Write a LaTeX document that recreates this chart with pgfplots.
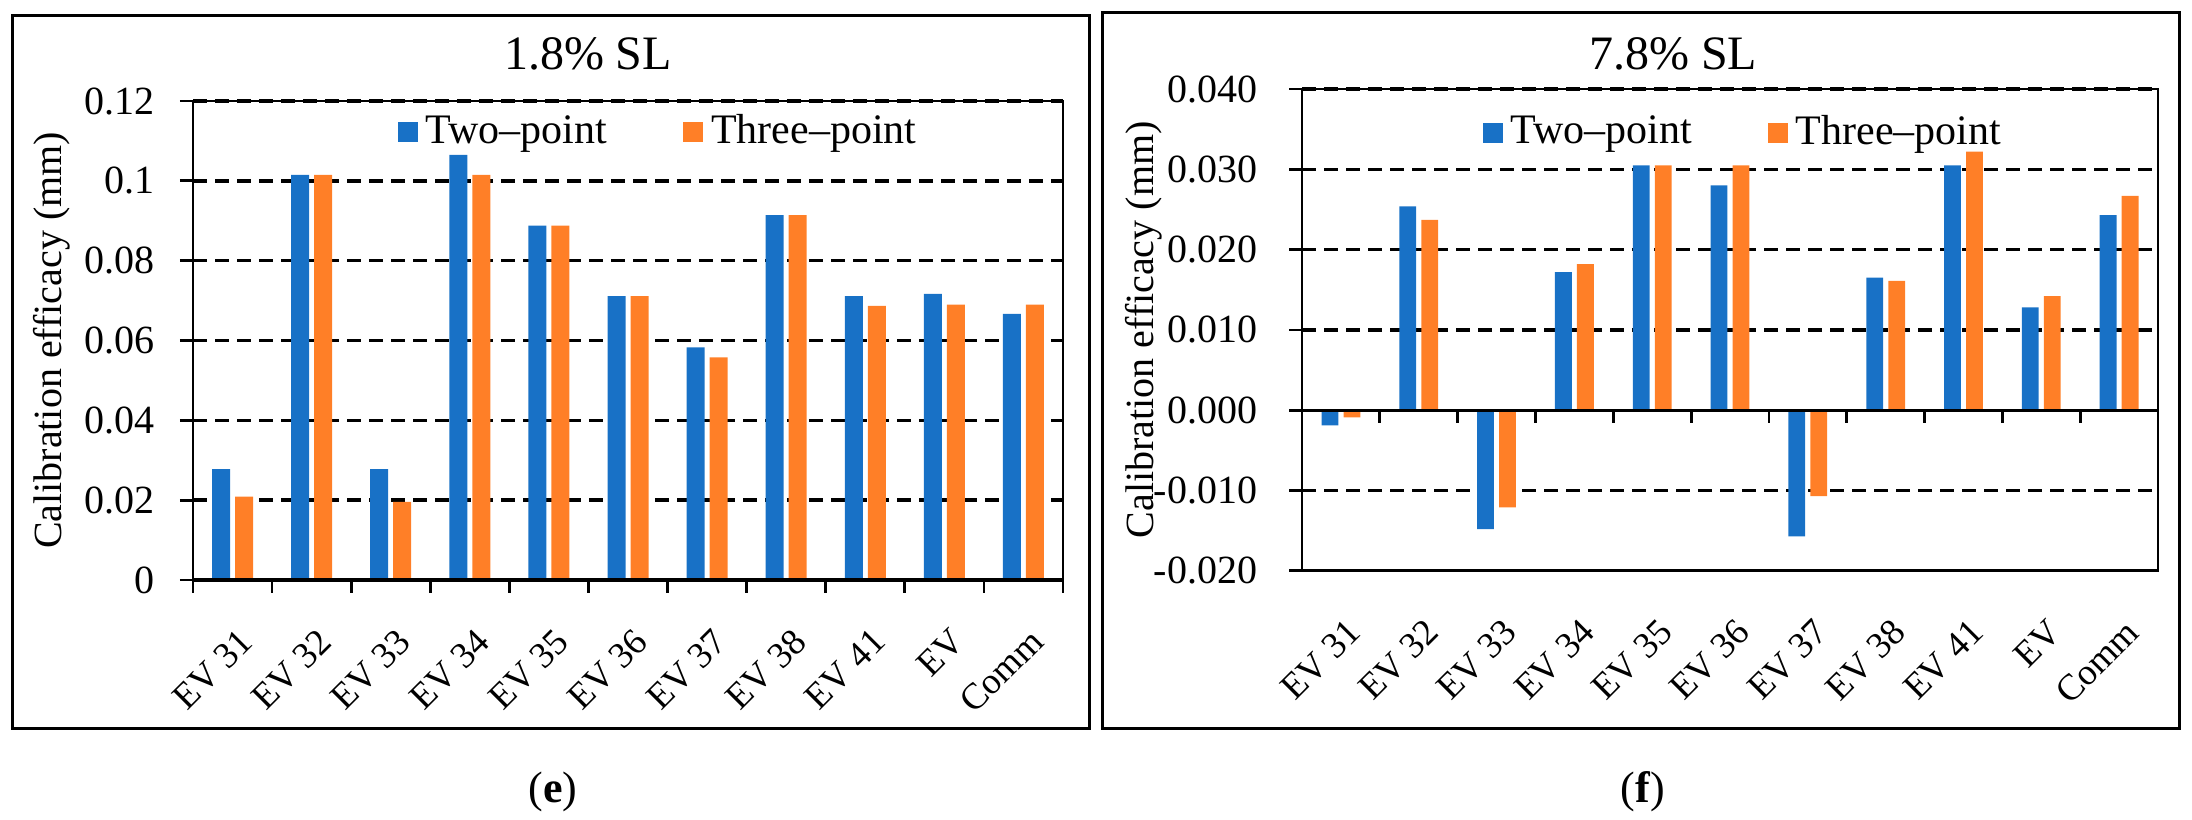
\documentclass[border=0pt]{standalone}
\usepackage{pgfplots}
\usepackage{pgfplotstable}
\pgfplotsset{compat=1.18}
\usepackage{fontspec}
\setmainfont{Liberation Serif}
\definecolor{cblue}{RGB}{24,113,198}
\definecolor{corange}{RGB}{255,127,39}

\pgfplotstableread{
x two three
0 0.0278 0.0209
1 0.1015 0.1015
2 0.0278 0.0196
3 0.1065 0.1015
4 0.0888 0.0888
5 0.0711 0.0711
6 0.0583 0.0558
7 0.0914 0.0914
8 0.0711 0.0687
9 0.0717 0.0690
10 0.0667 0.0690
}\dataE

\pgfplotstableread{
x two three
0 -0.0019 -0.0009
1 0.0254 0.0237
2 -0.0148 -0.0121
3 0.0172 0.0182
4 0.0305 0.0305
5 0.0280 0.0305
6 -0.0157 -0.0107
7 0.0165 0.0161
8 0.0305 0.0322
9 0.0128 0.0142
10 0.0243 0.0267
}\dataF

\pgfplotsset{
  panel/.style={
    scale only axis,
    clip=false,
    font=\fontsize{10bp}{12bp}\selectfont,
    xmin=-0.5, xmax=10.5,
    xtick={0,...,10},
    xticklabels={EV 31,EV 32,EV 33,EV 34,EV 35,EV 36,EV 37,EV 38,EV 41,EV,Comm},
    x tick style={draw=none},
    xticklabel style={inner sep=0pt, xshift=3.5bp, yshift=-10.5bp, rotate=45, anchor=east,
      font=\fontsize{9.2bp}{11bp}\selectfont},
    yticklabel style={inner sep=0pt, anchor=east, font=\fontsize{10bp}{12bp}\selectfont},
    scaled y ticks=false,
    ytick pos=left,
    y tick style={black, line width=0.7bp},
    tick align=outside,
    major tick length=3.25bp,
    ymajorgrids,
    major grid style={black, line width=0.85bp, dash pattern=on 3.4bp off 2.1bp},
    axis line style={black, line width=0.7bp},
    ylabel={Calibration efficacy (mm)},
    ylabel style={font=\fontsize{10.25bp}{12bp}\selectfont},
    legend columns=2,
    legend style={draw=none, fill=none, inner sep=0pt, font=\fontsize{10.5bp}{12bp}\selectfont,
      /tikz/every even column/.append style={column sep=17bp}},
  }
}

\begin{document}
\begin{tikzpicture}
\useasboundingbox (0,0) rectangle (548bp,205bp);

% panel boxes
\draw[line width=0.75bp] (3bp,22.75bp) rectangle (272.25bp,201bp);
\draw[line width=0.75bp] (275.5bp,22.75bp) rectangle (544.75bp,201.75bp);

% left panel
\begin{axis}[panel,
  at={(48.25bp,60bp)}, anchor=south west,
  width=217.5bp, height=119.75bp,
  ymin=0, ymax=0.12,
  ytick={0,0.02,0.04,0.06,0.08,0.1,0.12},
  yticklabels={0,0.02,0.04,0.06,0.08,0.1,0.12},
  yticklabel style={xshift=-6.25bp},
  every axis y label/.style={at={(axis description cs:-0.1506,0.5)}, rotate=90, anchor=base},
  ybar=1.25bp, bar width=4.5bp,
  legend style={at={(axis description cs:0.2345,0.935)}, anchor=west},
]
\addplot[fill=cblue, draw=none,
  legend image code/.code={\fill[cblue] (0bp,-2.5bp) rectangle (5bp,2.5bp);}]
  table[x=x, y=two] {\dataE};
\addlegendentry{Two–point}
\addplot[fill=corange, draw=none,
  legend image code/.code={\fill[corange] (0bp,-2.5bp) rectangle (5bp,2.5bp);}]
  table[x=x, y=three] {\dataE};
\addlegendentry{Three–point}
\draw[line width=0.85bp] (axis cs:-0.5,0) -- (axis cs:10.5,0);
\pgfplotsinvokeforeach{-0.5,0.5,...,10.5}{
  \draw[line width=0.7bp] (axis cs:#1,0) -- ([yshift=-3.25bp]axis cs:#1,0);
}
\end{axis}

% right panel
\begin{axis}[panel,
  at={(325.5bp,62.3bp)}, anchor=south west,
  width=214bp, height=120.45bp,
  ymin=-0.02, ymax=0.04,
  ytick={-0.02,-0.01,0,0.01,0.02,0.03,0.04},
  yticklabels={-0.020,-0.010,0.000,0.010,0.020,0.030,0.040},
  yticklabel style={xshift=-7.75bp},
  every axis y label/.style={at={(axis description cs:-0.174,0.5)}, rotate=90, anchor=base},
  ybar=1.3bp, bar width=4.2bp,
  legend style={at={(axis description cs:0.210,0.909)}, anchor=west},
]
\addplot[fill=cblue, draw=none,
  legend image code/.code={\fill[cblue] (0bp,-2.5bp) rectangle (5bp,2.5bp);}]
  table[x=x, y=two] {\dataF};
\addlegendentry{Two–point}
\addplot[fill=corange, draw=none,
  legend image code/.code={\fill[corange] (0bp,-2.5bp) rectangle (5bp,2.5bp);}]
  table[x=x, y=three] {\dataF};
\addlegendentry{Three–point}
\draw[line width=0.85bp] (axis cs:-0.5,0) -- (axis cs:10.5,0);
\draw[line width=0.85bp] (axis cs:-0.5,-0.02) -- (axis cs:10.5,-0.02);
\pgfplotsinvokeforeach{-0.5,0.5,...,10.5}{
  \draw[line width=0.7bp] (axis cs:#1,0) -- ([yshift=-3.25bp]axis cs:#1,0);
}
\end{axis}

% titles and captions
\node[anchor=base, font=\fontsize{12bp}{14bp}\selectfont] at (147bp,187.5bp) {1.8\% SL};
\node[anchor=base, font=\fontsize{12bp}{14bp}\selectfont] at (418.25bp,187.5bp) {7.8\% SL};
\node[anchor=base, inner sep=0pt, font=\fontsize{11bp}{13bp}\selectfont] at (138.25bp,4.5bp) {(\textbf{e})};
\node[anchor=base, inner sep=0pt, font=\fontsize{11bp}{13bp}\selectfont] at (410.75bp,4.5bp) {(\textbf{f})};
\end{tikzpicture}
\end{document}
